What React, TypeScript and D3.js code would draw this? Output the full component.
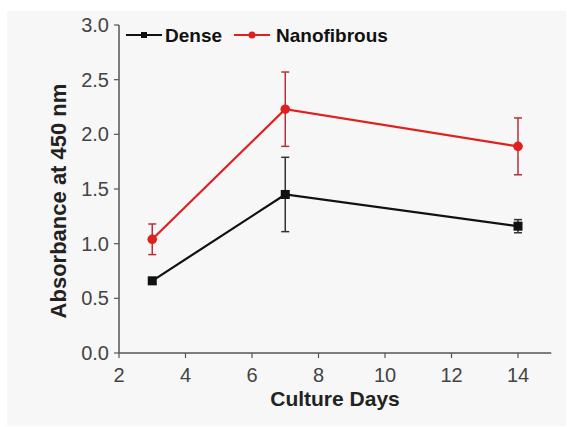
import { useEffect, useRef } from "react";
import * as d3 from "d3";

const days = [3, 7, 14];
const denseMean = [0.66, 1.45, 1.16];
const denseErr = [0.03, 0.34, 0.06];
const nanoMean = [1.04, 2.23, 1.89];
const nanoErr = [0.14, 0.34, 0.26];
const xTicks = [2, 4, 6, 8, 10, 12, 14];
const yTicks = [0, 0.5, 1.0, 1.5, 2.0, 2.5, 3.0];

const W = 567;
const H = 427;

export default function App() {
  const ref = useRef<SVGSVGElement | null>(null);

  useEffect(() => {
    if (!ref.current) return;
    const svg = d3.select(ref.current);
    svg.selectAll("*").remove();

    // light gray panel like the scanned figure
    svg.append("rect").attr("x", 7).attr("y", 11).attr("width", 559).attr("height", 415).attr("fill", "#f7f7f7");

    const x = d3.scaleLinear().domain([2, 15]).range([119, 551.25]);
    const y = d3.scaleLinear().domain([0, 3]).range([353, 25]);

    const font = "Arial, 'Liberation Sans', sans-serif";
    const axisColor = "#555";

    const g = svg.append("g");

    // axes
    g.append("line").attr("x1", x(2)).attr("x2", x(15)).attr("y1", y(0)).attr("y2", y(0))
      .attr("stroke", axisColor).attr("stroke-width", 1.5);
    g.append("line").attr("x1", x(2)).attr("x2", x(2)).attr("y1", y(0)).attr("y2", y(3))
      .attr("stroke", axisColor).attr("stroke-width", 1.5);

    xTicks.forEach((t) => {
      g.append("line").attr("x1", x(t)).attr("x2", x(t)).attr("y1", y(0)).attr("y2", y(0) + 5)
        .attr("stroke", axisColor).attr("stroke-width", 1.2);
      g.append("text").attr("x", x(t)).attr("y", y(0) + 29).attr("text-anchor", "middle")
        .attr("font-family", font).attr("font-size", 20).attr("fill", "#444").text(String(t));
    });
    yTicks.forEach((t) => {
      g.append("line").attr("x1", x(2) - 5).attr("x2", x(2)).attr("y1", y(t)).attr("y2", y(t))
        .attr("stroke", axisColor).attr("stroke-width", 1.2);
      g.append("text").attr("x", x(2) - 10).attr("y", y(t) + 7).attr("text-anchor", "end")
        .attr("font-family", font).attr("font-size", 20).attr("fill", "#444").text(t.toFixed(1));
    });

    g.append("text").attr("x", 335).attr("y", 406).attr("text-anchor", "middle")
      .attr("font-family", font).attr("font-size", 21).attr("font-weight", "bold").attr("fill", "#222")
      .text("Culture Days");
    g.append("text").attr("transform", "translate(66,201) rotate(-90)").attr("text-anchor", "middle")
      .attr("font-family", font).attr("font-size", 22).attr("font-weight", "bold").attr("fill", "#222")
      .text("Absorbance at 450 nm");

    const series = [
      { name: "Dense", mean: denseMean, err: denseErr, color: "#111", errColor: "#333", marker: "square" },
      { name: "Nanofibrous", mean: nanoMean, err: nanoErr, color: "#e0201e", errColor: "#b8303a", marker: "circle" },
    ];

    const line = d3.line<number>().x((_, i) => x(days[i])).y((d) => y(d));

    series.forEach((s) => {
      // error bars
      s.mean.forEach((m, i) => {
        const cx = x(days[i]);
        g.append("line").attr("x1", cx).attr("x2", cx).attr("y1", y(m - s.err[i])).attr("y2", y(m + s.err[i]))
          .attr("stroke", s.errColor).attr("stroke-width", 1.5);
        [m - s.err[i], m + s.err[i]].forEach((v) => {
          g.append("line").attr("x1", cx - 4).attr("x2", cx + 4).attr("y1", y(v)).attr("y2", y(v))
            .attr("stroke", s.errColor).attr("stroke-width", 1.5);
        });
      });
      g.append("path").datum(s.mean).attr("d", line).attr("fill", "none")
        .attr("stroke", s.color).attr("stroke-width", 2.2);
      s.mean.forEach((m, i) => {
        const cx = x(days[i]);
        if (s.marker === "square") {
          g.append("rect").attr("x", cx - 4.5).attr("y", y(m) - 4.5).attr("width", 9).attr("height", 9).attr("fill", s.color);
        } else {
          g.append("circle").attr("cx", cx).attr("cy", y(m)).attr("r", 4.8).attr("fill", s.color);
        }
      });
    });

    // legend
    const leg = g.append("g");
    const items = [
      { label: "Dense", color: "#111", marker: "square", x0: 126, tx: 165 },
      { label: "Nanofibrous", color: "#e0201e", marker: "circle", x0: 234, tx: 276 },
    ];
    items.forEach((it) => {
      const ly = 35;
      leg.append("line").attr("x1", it.x0).attr("x2", it.x0 + 36).attr("y1", ly).attr("y2", ly)
        .attr("stroke", it.color).attr("stroke-width", 2.2);
      if (it.marker === "square") {
        leg.append("rect").attr("x", it.x0 + 18 - 3).attr("y", ly - 3).attr("width", 6).attr("height", 6).attr("fill", it.color);
      } else {
        leg.append("circle").attr("cx", it.x0 + 18).attr("cy", ly).attr("r", 3.5).attr("fill", it.color);
      }
      leg.append("text").attr("x", it.tx).attr("y", ly + 7).attr("font-family", font).attr("font-size", 19)
        .attr("font-weight", "bold").attr("fill", "#111").text(it.label);
    });
  }, []);

  return (
    <div style={{ position: "absolute", left: 0, top: 0, background: "#fff" }}>
      <svg ref={ref} width={W} height={H} />
    </div>
  );
}
